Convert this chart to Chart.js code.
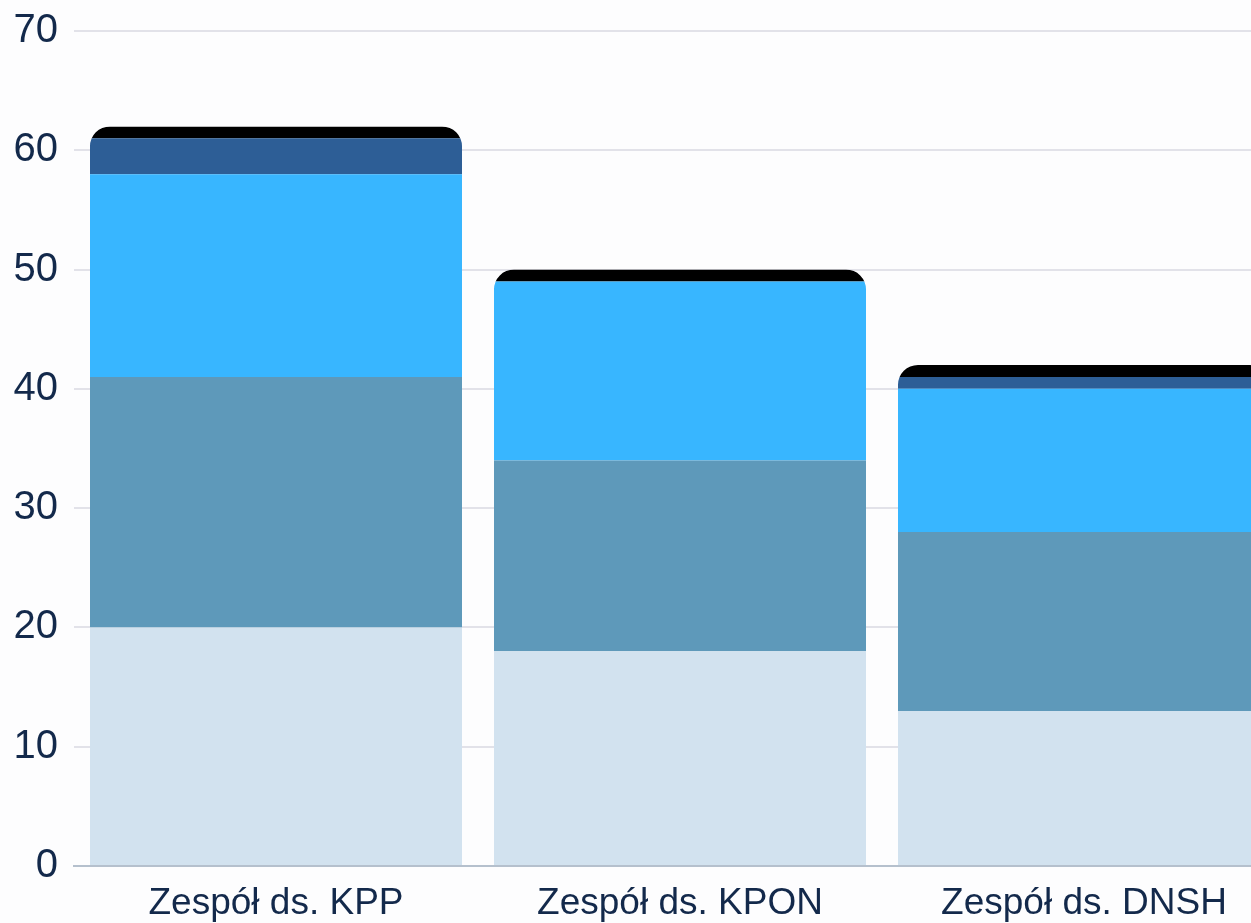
<!DOCTYPE html>
<html>
<head>
<meta charset="utf-8">
<script src="https://cdn.jsdelivr.net/npm/chart.js@4"></script>
<style>
  html, body { margin: 0; padding: 0; background: #fdfdfe; overflow: hidden; }
  #wrap { position: absolute; left: 0; top: -9px; width: 1300px; height: 932px; }
</style>
</head>
<body>
<div id="wrap"><canvas id="teamChart"></canvas></div>
<script>
// Categories and stacked series (bottom to top)
const teams = ['Zespół ds. KPP', 'Zespół ds. KPON', 'Zespół ds. DNSH'];
const seriesLabels = ['Seria 1', 'Seria 2', 'Seria 3', 'Seria 4', 'Seria 5'];
const series1 = [20, 18, 13];
const series2 = [21, 16, 15];
const series3 = [17, 15, 12];
const series4 = [3, 0, 1];
const series5 = [1, 1, 1];
const yTicks = [0, 10, 20, 30, 40, 50, 60, 70];

const colors = ['#d2e2ef', '#5e99ba', '#38b6ff', '#2d5e96', '#000000'];
const textColor = '#13294b';
const fontFamily = "'Liberation Sans', Arial, sans-serif";

// clip each stack to one shape with rounded top corners
const stackRound = {
  id: 'stackRound',
  beforeDatasetsDraw(chart) {
    const ctx = chart.ctx;
    const r = 20;
    ctx.save();
    ctx.beginPath();
    teams.forEach((t, i) => {
      let top = Infinity, left = 0, width = 0, base = -Infinity;
      chart.data.datasets.forEach((ds, d) => {
        const bar = chart.getDatasetMeta(d).data[i];
        if (!bar) return;
        left = bar.x - bar.width / 2;
        width = bar.width;
        base = Math.max(base, bar.base);
        if (ds.data[i] > 0) top = Math.min(top, bar.y);
      });
      if (top < Infinity) ctx.roundRect(left, top, width, base - top, [r, r, 0, 0]);
    });
    ctx.clip();
  },
  afterDatasetsDraw(chart) {
    chart.ctx.restore();
  }
};

const allSeries = [series1, series2, series3, series4, series5];

new Chart(document.getElementById('teamChart'), {
  type: 'bar',
  data: {
    labels: teams,
    datasets: allSeries.map((s, i) => ({
      label: seriesLabels[i],
      data: s,
      backgroundColor: colors[i],
      borderWidth: 0,
      barPercentage: 0.921,
      categoryPercentage: 1
    }))
  },
  options: {
    responsive: true,
    maintainAspectRatio: false,
    animation: false,
    layout: { padding: { top: 25, right: 14, left: 0, bottom: 0 } },
    plugins: {
      legend: { display: false },
      tooltip: { enabled: false }
    },
    scales: {
      x: {
        stacked: true,
        grid: { display: false, drawTicks: false },
        border: { display: true, color: '#b5c0cd', width: 2 },
        ticks: { color: textColor, padding: 16, font: { family: fontFamily, size: 37 } },
        afterFit(scale) { scale.height = 57; }
      },
      y: {
        stacked: true,
        min: 0,
        max: 70,
        afterBuildTicks(scale) { scale.ticks = yTicks.map(v => ({ value: v })); },
        grid: { color: '#e2e2e9', lineWidth: 2, drawTicks: false },
        border: { display: false },
        ticks: { color: textColor, padding: 16, font: { family: fontFamily, size: 40 } },
        afterFit(scale) { scale.width = 74; }
      }
    }
  },
  plugins: [stackRound]
});
</script>
</body>
</html>
